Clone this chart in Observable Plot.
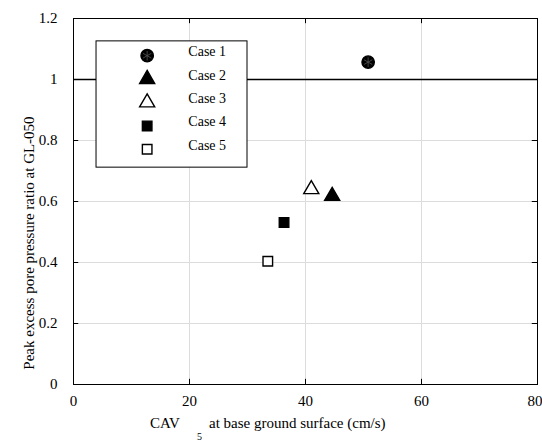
<!DOCTYPE html>
<html><head><meta charset="utf-8">
<script src="https://cdn.jsdelivr.net/npm/d3@7"></script>
<script src="https://cdn.jsdelivr.net/npm/@observablehq/plot@0.6"></script>
<style>body{margin:0;background:#fff} #chart svg, #chart svg text { font-family: "Liberation Serif", "Times New Roman", serif !important; }</style>
</head><body><div id="chart"></div>
<script>
const cases = ["Case 1", "Case 2", "Case 3", "Case 4", "Case 5"];
const cav = [50.8, 44.6, 41.0, 36.3, 33.5];
const ratio = [1.057, 0.618, 0.640, 0.531, 0.404];
const symbols = ["circle", "triangle", "triangle", "square", "square"];
const fills = ["black", "black", "white", "black", "white"];
const xTicks = [0, 20, 40, 60, 80];
const yTicks = [0, 0.2, 0.4, 0.6, 0.8, 1, 1.2];
const refLine = [1];

const data = cases.map((c, i) => ({case: c, x: cav[i], y: ratio[i], sym: symbols[i], fill: fills[i]}));
// legend layout in data units
const legBox = {x1: 3.97, x2: 30, y1: 0.711, y2: 1.125};
const leg = cases.map((c, i) => ({case: c, sym: symbols[i], fill: fills[i], x: 12.7, tx: 19.8, y: 1.078 - 0.0767 * i}));

const font = "'Liberation Serif', 'Times New Roman', serif";
const sizes = {circle: 6.2, triangle: 5.6, square: 5.4};
const dotMarks = (arr) => [
  ...Object.keys(sizes).map(s => Plot.dot(arr.filter(d => d.sym === s), {x: "x", y: "y", symbol: s, r: sizes[s],
    fill: "fill", stroke: "black", strokeWidth: 1.4})),
  Plot.dot(arr.filter(d => d.sym === "circle"), {x: "x", y: "y", symbol: "asterisk", r: 4.5, stroke: "#555", strokeWidth: 0.8})
];

const plot = Plot.plot({
  width: 542, height: 441,
  marginLeft: 73, marginRight: 5, marginTop: 18, marginBottom: 57,
  style: {fontFamily: font, fontSize: "15px", color: "black", background: "white"},
  x: {domain: [0, 80], ticks: xTicks, label: null},
  y: {domain: [0, 1.2], ticks: yTicks, label: null},
  marks: [
    Plot.gridX(xTicks, {stroke: "#dcdcdc", strokeOpacity: 1}),
    Plot.gridY(yTicks, {stroke: "#dcdcdc", strokeOpacity: 1}),
    Plot.ruleY(refLine, {stroke: "black", strokeWidth: 1.5}),
    Plot.frame({stroke: "black", strokeWidth: 1}),
    Plot.ruleX(xTicks, {y1: 0, y2: 0.017, stroke: "black"}),
    Plot.ruleX(xTicks, {y1: 1.183, y2: 1.2, stroke: "black"}),
    Plot.ruleY(yTicks, {x1: 0, x2: 0.9, stroke: "black"}),
    Plot.ruleY(yTicks, {x1: 79.1, x2: 80, stroke: "black"}),
    Plot.axisX(xTicks.slice(0, -1), {tickSize: 0, tickPadding: 11, fontSize: 15, tickFormat: d => String(d)}),
    Plot.axisX(xTicks.slice(-1), {tickSize: 0, tickPadding: 11, fontSize: 15, textAnchor: "end", dx: 5, tickFormat: d => String(d)}),
    Plot.axisY(yTicks, {tickSize: 0, tickPadding: 11, dx: -5, fontSize: 15, tickFormat: d => String(d)}),
    ...dotMarks(data),
    Plot.rect([legBox], {x1: "x1", x2: "x2", y1: "y1", y2: "y2", fill: "white", stroke: "black", strokeWidth: 1}),
    ...dotMarks(leg),
    Plot.text(leg, {x: "tx", y: "y", text: "case", textAnchor: "start", dy: -4, fontSize: 14})
  ]
});
document.getElementById("chart").appendChild(plot);

const svg = d3.select(plot);
const xt = svg.append("text").attr("x", 150).attr("y", 428).attr("text-anchor", "start")
  .attr("font-family", font).attr("font-size", 15).attr("fill", "black");
xt.append("tspan").text("CAV");
xt.append("tspan").attr("x", 197).attr("dy", 12).attr("font-size", 10).text("5");
xt.append("tspan").attr("x", 209).attr("dy", -12).text("at base ground surface (cm/s)");
svg.append("text").attr("transform", "translate(29,243) rotate(-90)").attr("text-anchor", "middle")
  .attr("dy", "0.35em").attr("font-family", font).attr("font-size", 15).attr("fill", "black")
  .text("Peak excess pore pressure ratio at GL-050");
</script></body></html>
